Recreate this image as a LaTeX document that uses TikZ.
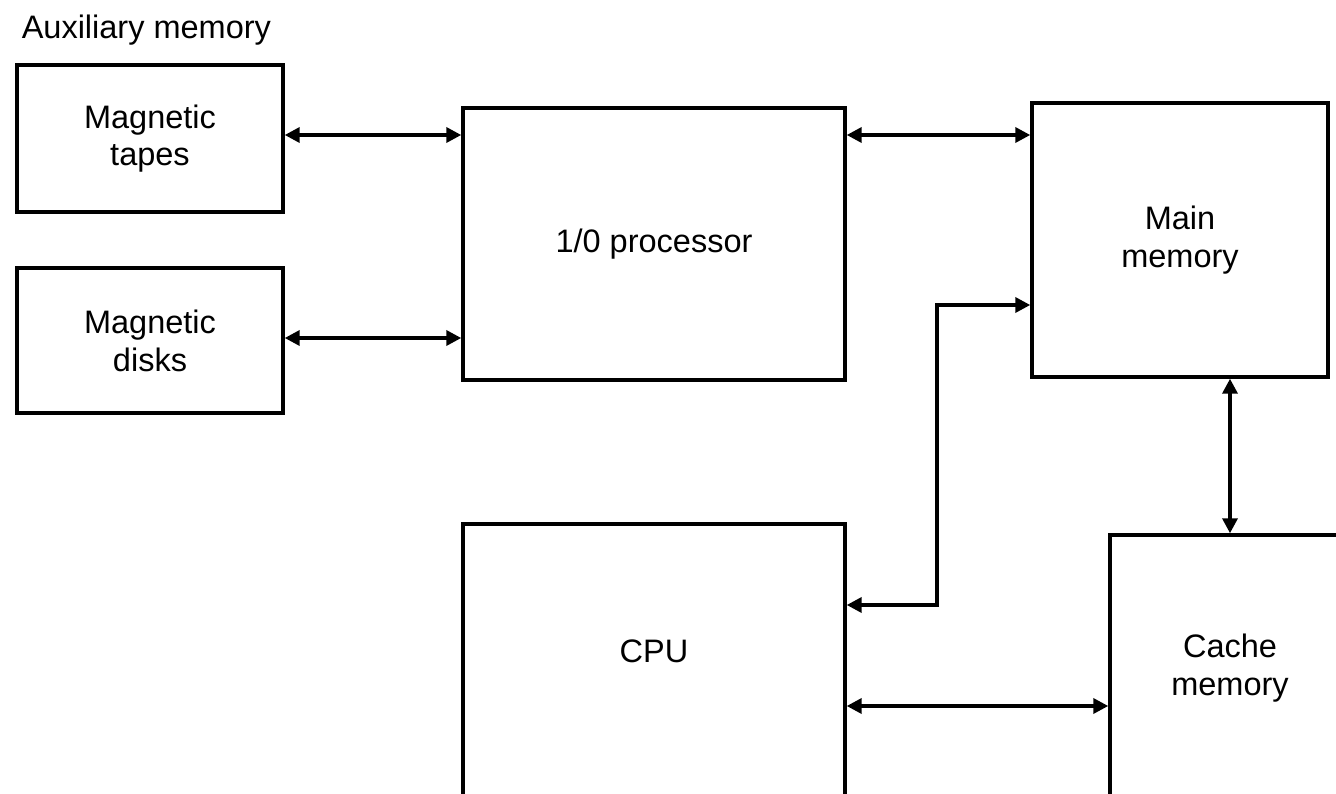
\documentclass[tikz,border=0pt]{standalone}
\usepackage{fontspec}
\setmainfont{Liberation Sans}
\usetikzlibrary{arrows.meta, positioning, calc}
\tikzset{
  every picture/.style={line width=2pt},
  box/.style={draw=black, rectangle, align=center, inner sep=4pt, font=\fontsize{18.5}{21.5}\selectfont},
  link/.style={{Triangle[length=3mm, width=3mm]}-{Triangle[length=3mm, width=3mm]}, draw=black, line width=2pt},
  title/.style={font=\fontsize{18.5}{21.5}\selectfont, anchor=west, inner sep=0pt},
}
\begin{document}
\begin{tikzpicture}[x=0.02cm, y=-0.02cm]
  \useasboundingbox (0,0) rectangle (1336,794);
  \clip (0,0) rectangle (1336,794);
  \node[title] (aux) at (20,30) {Auxiliary memory};
  \node[box, minimum width=5.32cm, minimum height=2.94cm] (tapes) at (150,138.5) {Magnetic\\tapes};
  \node[box, minimum width=5.32cm, minimum height=2.9cm] (disks) at (150,340.5) {Magnetic\\disks};
  \node[box, minimum width=7.64cm, minimum height=5.44cm] (io) at (654,244) {1/0 processor};
  \node[box, minimum width=5.92cm, minimum height=5.48cm] (main) at (1180,240) {Main\\memory};
  \node[box, minimum width=7.64cm, minimum height=6cm, anchor=north,
        label={[font=\fontsize{18.5}{21.5}\selectfont, yshift=0.44cm]center:CPU}] (cpu) at (654,522) {};
  \node[box, minimum width=4.8cm, minimum height=5.32cm] (cache) at (1230,668) {Cache\\memory};
  \draw[link] (tapes.east |- 0,135) -- (io.west |- 0,135);
  \draw[link] (disks.east |- 0,338) -- (io.west |- 0,338);
  \draw[link] (io.east |- 0,135) -- (main.west |- 0,135);
  \draw[link] (cpu.east |- 0,605) -- (937,605) |- (main.west |- 0,305);
  \draw[link] (main.south -| cache.north) -- (cache.north);
  \draw[link] (cpu.east |- 0,706) -- (cache.west |- 0,706);
\end{tikzpicture}
\end{document}
